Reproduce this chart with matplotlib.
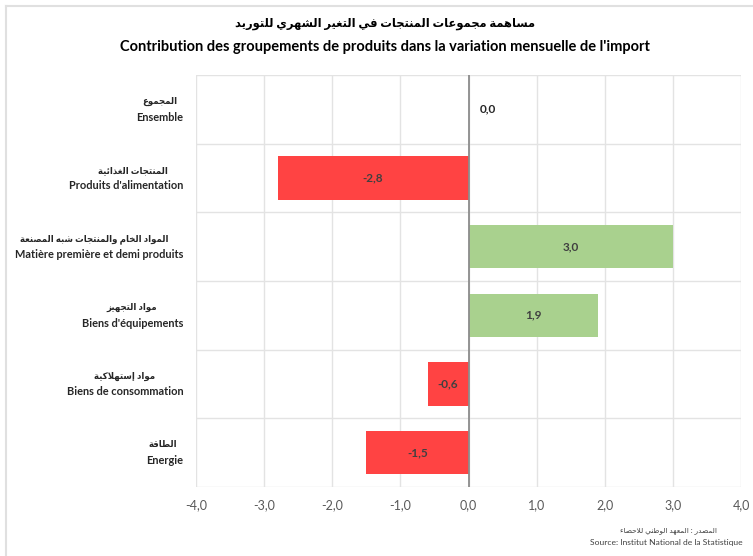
import matplotlib.pyplot as plt
from matplotlib.lines import Line2D
from matplotlib.ticker import FuncFormatter

# Data (top to bottom)
labels_ar = ["المجموع", "المنتجات الغذائية", "المواد الخام والمنتجات شبه المصنعة",
             "مواد التجهيز", "مواد إستهلاكية", "الطاقة"]
labels_fr = ["Ensemble", "Produits d'alimentation", "Matière première et demi produits",
             "Biens d'équipements", "Biens de consommation", "Energie"]
values = [0.0, -2.8, 3.0, 1.9, -0.6, -1.5]
xticks = [-4, -3, -2, -1, 0, 1, 2, 3, 4]

title_ar = "مساهمة مجموعات المنتجات في التغير الشهري للتوريد"
title_fr = "Contribution des groupements de produits dans la variation mensuelle de l'import"
source_ar = "المصدر : المعهد الوطني للاحصاء"
source_fr = "Source: Institut National de la Statistique"

RED = "#FF4343"
GREEN = "#A9D18E"
GRID = "#E3E3E3"
TXT = "#262626"

# where each Arabic line ends, in px left of the French line (Excel padding)
ar_indent = [6, 16, 15, 26, 28, 6]

# --- minimal Arabic shaping (matplotlib has no complex text layout) ---
FOUR = {"ئ": 0xFE89, "ب": 0xFE8F, "ت": 0xFE95, "ث": 0xFE99, "ج": 0xFE9D, "ح": 0xFEA1,
        "خ": 0xFEA5, "س": 0xFEB1, "ش": 0xFEB5, "ص": 0xFEB9, "ض": 0xFEBD, "ط": 0xFEC1,
        "ظ": 0xFEC5, "ع": 0xFEC9, "غ": 0xFECD, "ف": 0xFED1, "ق": 0xFED5, "ك": 0xFED9,
        "ل": 0xFEDD, "م": 0xFEE1, "ن": 0xFEE5, "ه": 0xFEE9, "ي": 0xFEF1}
TWO = {"آ": 0xFE81, "أ": 0xFE83, "ؤ": 0xFE85, "إ": 0xFE87, "ا": 0xFE8D, "ة": 0xFE93,
       "د": 0xFEA9, "ذ": 0xFEAB, "ر": 0xFEAD, "ز": 0xFEAF, "و": 0xFEED, "ى": 0xFEEF}
LAMALEF = {"آ": 0xFEF5, "أ": 0xFEF7, "إ": 0xFEF9, "ا": 0xFEFB}


def shape_ar(s):
    chars = list(s)
    out = []
    i = 0
    while i < len(chars):
        c = chars[i]
        prev = chars[i - 1] if i > 0 else ""
        joins_prev = prev in FOUR and (c in FOUR or c in TWO)
        if c == "ل" and i + 1 < len(chars) and chars[i + 1] in LAMALEF:
            base = LAMALEF[chars[i + 1]]
            out.append(chr(base + (1 if joins_prev else 0)))
            i += 2
            continue
        nxt = chars[i + 1] if i + 1 < len(chars) else ""
        joins_next = c in FOUR and (nxt in FOUR or nxt in TWO)
        if c in FOUR:
            b = FOUR[c]
            if joins_prev and joins_next:
                out.append(chr(b + 3))
            elif joins_prev:
                out.append(chr(b + 1))
            elif joins_next:
                out.append(chr(b + 2))
            else:
                out.append(chr(b))
        elif c in TWO:
            out.append(chr(TWO[c] + (1 if joins_prev else 0)))
        elif c == "ء":
            out.append(chr(0xFE80))
        else:
            out.append(c)
        i += 1
    return "".join(reversed(out))


plt.rcParams["font.family"] = ["Lato", "DejaVu Sans"]

fig = plt.figure(figsize=(7.53, 5.56), dpi=100)
ax = fig.add_axes([196 / 753, 1 - 487 / 556, 545 / 753, 412 / 556])

n = len(values)
ypos = list(range(n))
colors = [GREEN if v > 0 else RED for v in values]
ax.barh(ypos, values, height=0.63, color=colors, zorder=3)

ax.set_xlim(-4, 4)
ax.set_ylim(n - 0.5, -0.5)
ax.set_xticks(xticks)
ax.xaxis.set_major_formatter(FuncFormatter(lambda v, p: f"{v:.1f}".replace(".", ",")))
ax.tick_params(axis="x", length=0, pad=9, labelsize=9, labelcolor="#595959")
ax.set_yticks([])

# grid: vertical at ticks, horizontal between categories
ax.grid(axis="x", color=GRID, linewidth=1, zorder=0)
for k in range(n + 1):
    ax.axhline(k - 0.5, color=GRID, linewidth=1, zorder=0)
for s in ax.spines.values():
    s.set_visible(False)
ax.axvline(0, color="#8C8C8C", linewidth=1.3, zorder=4)

# value labels
for y, v in zip(ypos, values):
    txt = f"{v:.1f}".replace(".", ",")
    if v == 0:
        ax.annotate(txt, (0, y), xytext=(8, 0), textcoords="offset points",
                    ha="left", va="center", fontsize=8.5, fontweight="bold", color=TXT, zorder=5)
    else:
        ax.text(v / 2, y, txt, ha="center", va="center", fontsize=8.5,
                fontweight="bold", color="#404040", zorder=5)

# category labels, Arabic over French
for y, ar, fr, ind in zip(ypos, labels_ar, labels_fr, ar_indent):
    ax.annotate(shape_ar(ar), (0, y), xycoords=("axes fraction", "data"),
                xytext=(-(9 + ind * 0.72), 5.6), textcoords="offset points",
                ha="right", va="center", fontsize=6.2, fontweight="bold", color=TXT)
    ax.annotate(fr, (0, y), xycoords=("axes fraction", "data"),
                xytext=(-9, -5.6), textcoords="offset points", ha="right", va="center",
                fontsize=7.9, fontweight="bold", color=TXT)

# titles
fig.text(385 / 753, 1 - 24 / 556, shape_ar(title_ar), ha="center", va="center",
         fontsize=8.3, fontweight="bold", color="black")
fig.text(385 / 753, 1 - 47 / 556, title_fr, ha="center", va="center",
         fontsize=10.5, fontweight="bold", color="black")

# source
fig.text(717 / 753, 1 - 531 / 556, shape_ar(source_ar), ha="right", va="center",
         fontsize=5.3, color="#404040")
fig.text(743 / 753, 1 - 543 / 556, source_fr, ha="right", va="center",
         fontsize=6.1, color="#404040")

# light frame around the chart
fig.add_artist(Line2D([6.5 / 753, 1], [1 - 5.5 / 556] * 2, transform=fig.transFigure,
                      color="#E0E0E0", linewidth=1.5))
fig.add_artist(Line2D([6.5 / 753] * 2, [0, 1 - 5.5 / 556], transform=fig.transFigure,
                      color="#E0E0E0", linewidth=1.5))

fig.savefig("out.png", dpi=100)
